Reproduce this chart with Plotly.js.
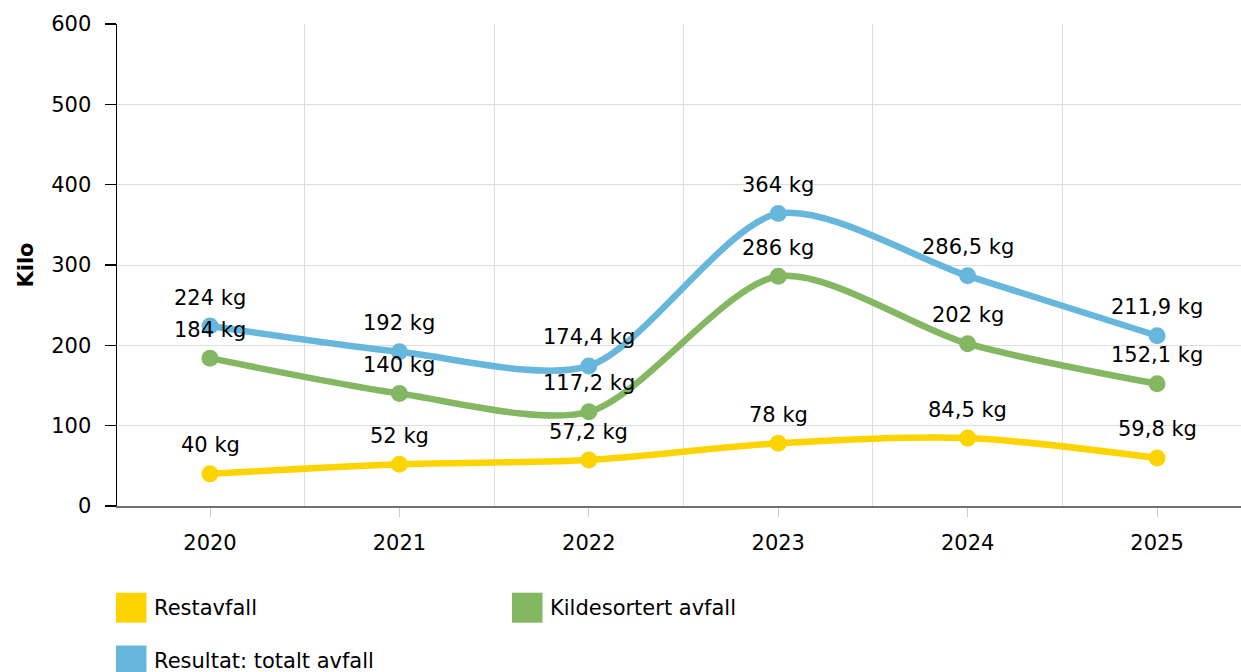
<!DOCTYPE html>
<html>
<head>
<meta charset="utf-8">
<script src="https://cdn.plot.ly/plotly-3.0.1.min.js"></script>
<style>
html,body{margin:0;padding:0;background:#fff;}
#chart{width:1241px;height:672px;}
</style>
</head>
<body>
<div id="chart"></div>
<script>
// ---- data ----
const years = ["2020", "2021", "2022", "2023", "2024", "2025"];
const restavfall = [40, 52, 57.2, 78, 84.5, 59.8];
const kildesortert = [184, 140, 117.2, 286, 202, 152.1];
const totalt = [224, 192, 174.4, 364, 286.5, 211.9];
const seriesNames = ["Restavfall", "Kildesortert avfall", "Resultat: totalt avfall"];
const seriesColors = ["#fdd400", "#84b761", "#67b7dc"];
const yTickVals = [0, 100, 200, 300, 400, 500, 600];

// ---- geometry ----
const W = 1241, H = 672;
const M = {l: 117, r: 0, t: 24, b: 166};
const PW = W - M.l - M.r, PH = H - M.t - M.b;
const px2x = p => (p - M.l) / PW;
const px2y = p => (H - M.b - p) / PH;
const FONT = "DejaVu Sans, Verdana, sans-serif";
const FS = 21;

const xIdx = years.map((_, i) => i);
const allSeries = [restavfall, kildesortert, totalt];

const traces = allSeries.map((vals, s) => ({
  type: "scatter",
  mode: "lines+markers",
  x: xIdx,
  y: vals,
  name: seriesNames[s],
  line: {color: seriesColors[s], width: 6.5, shape: "spline", smoothing: 0.8},
  marker: {color: seriesColors[s], size: 17},
  hoverinfo: "skip",
  showlegend: false
}));

const fmt = v => String(v).replace(".", ",") + " kg";

const annotations = [];
allSeries.forEach((vals, s) => {
  vals.forEach((v, i) => {
    annotations.push({
      x: i, y: v, xref: "x", yref: "y",
      text: fmt(v), showarrow: false,
      yshift: 28.5,
      font: {family: FONT, size: FS, color: "#000"}
    });
  });
});

// manual legend (square swatches + labels)
const legendPos = [[116, 607.7], [512, 607.7], [116, 660.5]];
const shapes = [];
seriesNames.forEach((nm, s) => {
  const [lx, ly] = legendPos[s];
  shapes.push({
    type: "rect", xref: "paper", yref: "paper",
    x0: px2x(lx), x1: px2x(lx + 30.5),
    y0: px2y(ly - 15), y1: px2y(ly + 15),
    fillcolor: seriesColors[s], line: {width: 0}
  });
  annotations.push({
    xref: "paper", yref: "paper",
    x: px2x(lx + 36), y: px2y(ly),
    xanchor: "left", yanchor: "middle",
    text: nm, showarrow: false,
    font: {family: FONT, size: FS, color: "#000"}
  });
});

const layout = {
  width: W, height: H,
  margin: M,
  paper_bgcolor: "#fff",
  plot_bgcolor: "#fff",
  font: {family: FONT, size: FS, color: "#000"},
  showlegend: false,
  xaxis: {
    range: [-0.491, 5.443],
    tickmode: "array",
    tickvals: xIdx,
    ticktext: years,
    showgrid: false,
    zeroline: false,
    showline: true,
    linecolor: "#707070",
    linewidth: 1.5,
    ticks: "outside",
    ticklen: 9,
    tickcolor: "#cccccc",
    tickwidth: 1,
    ticklabelstandoff: 8,
    tickfont: {family: FONT, size: FS, color: "#000"},
    minor: {
      tickmode: "array",
      tickvals: [0.5, 1.5, 2.5, 3.5, 4.5],
      showgrid: true,
      gridcolor: "#dddddd",
      gridwidth: 1,
      ticks: ""
    },
    fixedrange: true
  },
  yaxis: {
    range: [0, 600],
    tickmode: "array",
    tickvals: yTickVals,
    showgrid: true,
    gridcolor: "#dddddd",
    gridwidth: 1,
    zeroline: false,
    showline: true,
    linecolor: "#000",
    linewidth: 1.5,
    ticks: "outside",
    ticklen: 11,
    tickcolor: "#000",
    tickwidth: 1.5,
    ticklabelstandoff: 9,
    tickfont: {family: FONT, size: FS, color: "#000"},
    title: {text: "<b>Kilo</b>", font: {family: FONT, size: FS, color: "#000"}, standoff: 12},
    fixedrange: true
  },
  annotations: annotations,
  shapes: shapes
};

Plotly.newPlot("chart", traces, layout, {displayModeBar: false, staticPlot: true});
</script>
</body>
</html>
